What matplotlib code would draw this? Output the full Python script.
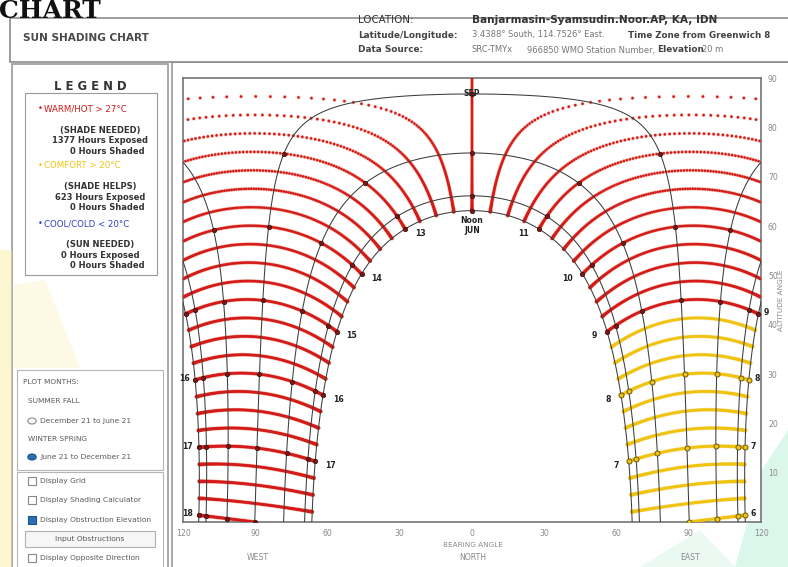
import numpy as np
import matplotlib
matplotlib.use("Agg")
import matplotlib.pyplot as plt
from matplotlib.patches import Rectangle, Circle, Polygon

# ---------------------------------------------------------------- data
latitude = -3.4388                      # 3.4388 deg South
month_names = ["JUN", "JUL", "AUG", "SEP", "OCT", "NOV", "DEC"]
month_start_doy = [152, 182, 213, 244, 274, 305, 335]
month_path_doy = [172, 202, 233, 264, 294, 325, 355]   # 21st of each month
first_doy, last_doy = 172, 355                         # June 21 .. December 21
plot_hours = [6, 7, 8, 9, 10, 11, 12, 13, 14, 15, 16, 17, 18]
steps_per_hour = 4                                     # 15 minute sun positions

# mean dry-bulb temperature (deg C) by month (rows) and hour 6..18 (columns)
hourly_temp = [
    [24.1, 24.6, 25.8, 27.3, 28.8, 30.0, 30.9, 31.5, 31.6, 31.3, 30.4, 29.1, 27.8],
    [24.0, 24.5, 25.9, 27.4, 28.9, 30.1, 31.0, 31.6, 31.8, 31.4, 30.5, 29.2, 27.9],
    [24.2, 24.8, 26.2, 27.8, 29.4, 30.7, 31.7, 32.3, 32.4, 32.0, 31.0, 29.6, 28.1],
    [24.6, 25.2, 26.6, 28.3, 30.0, 31.4, 32.4, 33.0, 33.1, 32.6, 31.5, 30.0, 28.4],
    [24.8, 25.4, 26.8, 28.4, 30.1, 31.5, 32.5, 33.1, 33.0, 32.4, 31.3, 29.8, 28.3],
    [24.7, 25.3, 26.5, 28.0, 29.6, 30.9, 31.8, 32.2, 32.1, 31.5, 30.4, 29.1, 27.8],
    [24.5, 25.0, 26.2, 27.6, 29.1, 30.3, 31.1, 31.5, 31.4, 30.9, 29.9, 28.7, 27.5],
]
hot_limit, comfort_limit = 27.0, 20.0

june_labels = [7, 8, 9, 10, 11, 13, 14, 15, 16, 17]
december_labels = [6, 7, 8, 9, 16, 17, 18]

legend_rows = [
    ("WARM/HOT > 27°C", "(SHADE NEEDED)", "1377 Hours Exposed", "0 Hours Shaded"),
    ("COMFORT > 20°C", "(SHADE HELPS)", "623 Hours Exposed", "0 Hours Shaded"),
    ("COOL/COLD < 20°C", "(SUN NEEDED)", "0 Hours Exposed", "0 Hours Shaded"),
]
bearing_ticks = [-120, -90, -60, -30, 0, 30, 60, 90, 120]
altitude_ticks = [10, 20, 30, 40, 50, 60, 70, 80, 90]

HOT = "#d41a1a"
COMFORT = "#f0c30e"
COOL = "#2f3fc2"


# ---------------------------------------------------------------- solar geometry
def declination(doy):
    return 23.45 * np.sin(np.radians(360.0 / 365.0 * (284 + np.asarray(doy))))


def sun_position(doy, hour):
    """Altitude and bearing (deg, east positive, from north) for solar time."""
    phi = np.radians(latitude)
    dec = np.radians(declination(doy))
    ha = np.radians(15.0 * (np.asarray(hour) - 12.0))
    sin_alt = np.sin(phi) * np.sin(dec) + np.cos(phi) * np.cos(dec) * np.cos(ha)
    alt = np.degrees(np.arcsin(np.clip(sin_alt, -1, 1)))
    az = np.arctan2(-np.cos(dec) * np.sin(ha),
                    np.sin(dec) * np.cos(phi) - np.cos(dec) * np.cos(ha) * np.sin(phi))
    return alt, np.degrees(az)


def temp_at(doy, hour):
    m = np.searchsorted(month_start_doy, doy, side="right") - 1
    h = int(np.floor(hour + 1e-9)) - plot_hours[0]
    return hourly_temp[m][min(max(h, 0), len(plot_hours) - 1)]


def temp_colour(t):
    if t > hot_limit:
        return HOT
    if t > comfort_limit:
        return COMFORT
    return COOL


# ---------------------------------------------------------------- figure
W, H = 788, 567
fig = plt.figure(figsize=(W / 100, H / 100), dpi=100)
fig.patch.set_facecolor("white")


def X(px):
    return px / W


def Y(py):
    return 1 - py / H


def text(x, y, s, **kw):
    kw.setdefault("va", "center")
    return fig.text(X(x), Y(y), s, **kw)


def box(x0, y0, x1, y1, fc="white", ec="#9a9a9a", lw=1.0, z=-3):
    fig.add_artist(Rectangle((X(x0), Y(y1)), X(x1) - X(x0), Y(y0) - Y(y1),
                             transform=fig.transFigure, facecolor=fc,
                             edgecolor=ec, linewidth=lw, zorder=z))


def shape(points, fc, alpha, z=-2.5):
    fig.add_artist(Polygon([(X(px), Y(py)) for px, py in points], closed=True,
                           transform=fig.transFigure, facecolor=fc,
                           edgecolor="none", alpha=alpha, zorder=z))


narrow = ["Liberation Sans Narrow", "DejaVu Sans"]
grey_txt = "#5a5a5a"

# page title running behind the window
text(-1, 18, "CHART", fontsize=18, fontweight="bold", family="DejaVu Serif",
     va="baseline", color="#111")

# header bar
box(10, 18, 800, 62, fc="white", ec="#8c8c8c", lw=1.2)
text(23, 38, "SUN SHADING CHART", fontsize=7.6, fontweight="bold", color="#4a4a4a")
text(358, 20, "LOCATION:", fontsize=7.4, color="#333")
text(358, 35, "Latitude/Longitude:", fontsize=6.4, fontweight="bold", color="#444")
text(358, 50, "Data Source:", fontsize=6.4, fontweight="bold", color="#444")
text(472, 20, "Banjarmasin-Syamsudin.Noor.AP, KA, IDN", fontsize=7.6,
     fontweight="bold", color="#333")
text(472, 35, "3.4388° South, 114.7526° East.", fontsize=6.0, color="#777")
text(628, 35, "Time Zone from Greenwich 8", fontsize=6.3, fontweight="bold", color="#444")
text(472, 50, "SRC-TMYx", fontsize=6.0, color="#777")
text(527, 50, "966850 WMO Station Number,", fontsize=6.0, color="#777")
text(657, 50, "Elevation", fontsize=6.4, fontweight="bold", color="#444")
text(702, 50, "20 m", fontsize=6.0, color="#777")

# left control column
box(12, 64, 168, 575, fc="white", ec="#9a9a9a", lw=1.2, z=-4)
# faint background tint showing through the window
shape([(0, 250), (12, 250), (12, 567), (0, 567)], "#f7ec9a", 0.45)
shape([(14, 285), (45, 280), (80, 368), (14, 368)], "#fbf3c4", 0.45)
box(25, 93, 157, 275, fc="white", ec="#9a9a9a", lw=0.8)
text(90, 86, "L E G E N D", fontsize=8.4, fontweight="bold", color="#333", ha="center")
row_y = [109, 166, 224]
for (head, need, exposed, shaded), y0, col in zip(legend_rows, row_y,
                                                   [HOT, COMFORT, COOL]):
    text(38, y0, "•", fontsize=6, color=col, ha="left")
    text(44, y0, head, fontsize=6.2, color=col, ha="left", family=narrow)
    text(100, y0 + 21, need, fontsize=6.0, color="#333", ha="center",
         family=narrow, fontweight="bold")
    text(100, y0 + 32, exposed, fontsize=6.0, color="#333", ha="center",
         family=narrow, fontweight="bold")
    text(107, y0 + 42, shaded, fontsize=6.0, color="#333", ha="center",
         family=narrow, fontweight="bold")

box(17, 370, 163, 470, fc="white", ec="#b5b5b5", lw=0.8)
text(23, 382, "PLOT MONTHS:", fontsize=5.3, color=grey_txt)
text(28, 401, "SUMMER FALL", fontsize=5.3, color=grey_txt)
text(28, 439, "WINTER SPRING", fontsize=5.3, color=grey_txt)
fig.add_artist(Circle((X(32), Y(421)), 4.2 / W, transform=fig.transFigure,
                      facecolor="white", edgecolor="#888", lw=0.8))
fig.add_artist(Circle((X(32), Y(457)), 4.2 / W, transform=fig.transFigure,
                      facecolor="#2a6fb8", edgecolor="#1d4f88", lw=0.8))
text(40, 421, "December 21 to June 21", fontsize=5.4, color=grey_txt)
text(40, 457, "June 21 to December 21", fontsize=5.4, color=grey_txt)

box(17, 472, 163, 575, fc="white", ec="#b5b5b5", lw=0.8)
checks = [(481, "Display Grid", False), (500, "Display Shading Calculator", False),
          (520, "Display Obstruction Elevation", True),
          (558, "Display Opposite Direction", False)]
for y0, label, on in checks:
    box(28, y0 - 4, 36, y0 + 4, fc="#2a6fb8" if on else "white",
        ec="#1d4f88" if on else "#888", lw=0.8, z=2)
    text(40, y0, label, fontsize=5.4, color=grey_txt)
box(25, 531, 155, 547, fc="#f6f6f6", ec="#b0b0b0", lw=0.8, z=1)
text(90, 539, "Input Obstructions", fontsize=5.4, color=grey_txt, ha="center")

# chart panel border
box(172, 62, 800, 575, fc="white", ec="#9a9a9a", lw=1.2, z=-4)
shape([(762, 470), (788, 430), (788, 567), (735, 567)], "#bff0dc", 0.55)
shape([(640, 567), (700, 530), (735, 567)], "#d8f5e8", 0.5)

# ---------------------------------------------------------------- sun chart
ax = fig.add_axes([X(183), Y(522), X(761) - X(183), Y(78) - Y(522)])
ax.set_xlim(-120, 120)
ax.set_ylim(0, 90)
ax.set_facecolor("white")

# quarter-hour sun positions for every day of the season, coloured by temperature
days = np.arange(first_doy, last_doy + 1)
times = np.arange(plot_hours[0] * steps_per_hour,
                  plot_hours[-1] * steps_per_hour + 1) / steps_per_hour
xs, ys, cs = [], [], []
for d in days:
    alt, brg = sun_position(d, times)
    for t, a, b in zip(times, alt, brg):
        if a > 0 and abs(b) <= 120:
            xs.append(b)
            ys.append(a)
            cs.append(temp_colour(temp_at(d, t)))
xs, ys, cs = np.array(xs), np.array(ys), np.array(cs)
halo = np.where(cs == HOT, "#ee8a70", "#f5dc78")
ax.scatter(xs, ys, s=8, c=halo, linewidths=0, alpha=0.45, zorder=2, rasterized=True)
ax.scatter(xs, ys, s=3.6, c=cs, linewidths=0, zorder=3, rasterized=True)

# day paths for the 21st of each month, with whole-hour markers
fine = np.linspace(5.5, 18.5, 1400)
for name, d in zip(month_names, month_path_doy):
    alt, brg = sun_position(d, fine)
    ok = (alt >= 0) & (np.abs(brg) <= 120.5)
    ax.plot(np.where(ok, brg, np.nan), np.where(ok, alt, np.nan),
            color="#3c3c3c", lw=0.75, zorder=4)
    for h in plot_hours:
        a, b = sun_position(d, h)
        if a > 0 and abs(b) <= 120:
            col = temp_colour(temp_at(d, h))
            if col == HOT:
                ax.plot(b, a, "o", ms=3.2, mfc="#7a1616", mec="#3a0c0c", mew=0.5, zorder=5)
            else:
                ax.plot(b, a, "o", ms=3.6, mfc=COMFORT, mec="#6a5a10", mew=0.7, zorder=5)

# hour labels on the June and December paths
lab = dict(fontsize=5.6, fontweight="bold", color="#222", zorder=6)
for h in june_labels:
    a, b = sun_position(month_path_doy[0], h)
    dx = -7 if h < 12 else 7
    ax.annotate(str(h), (b, a), xytext=(dx, -3), textcoords="offset points",
                ha="right" if h < 12 else "left", va="center", **lab)
a, b = sun_position(month_path_doy[0], 12)
ax.annotate("Noon\nJUN", (b, a), xytext=(0, -4), textcoords="offset points",
            ha="center", va="top", linespacing=1.1, **lab)
a, b = sun_position(month_path_doy[3], 12)
ax.annotate("SEP", (b, a), xytext=(0, 0), textcoords="offset points",
            ha="center", va="center", **lab)
for h in december_labels:
    a, b = sun_position(month_path_doy[-1], h)
    right = h < 12
    ax.annotate(str(h), (b, a), xytext=(4 if right else -4, 1),
                textcoords="offset points", ha="left" if right else "right",
                va="center", annotation_clip=False, **lab)

# axes styling
for s in ax.spines.values():
    s.set_color("#6a6a6a")
    s.set_linewidth(1.1)
ax.set_xticks(bearing_ticks)
ax.set_xticklabels([str(abs(v)) for v in bearing_ticks])
ax.yaxis.tick_right()
ax.set_yticks(altitude_ticks)
ax.set_yticklabels([str(v) for v in altitude_ticks])
ax.tick_params(axis="x", length=0, pad=5, labelsize=5.6, labelcolor="#8a8a8a")
ax.tick_params(axis="y", length=0, pad=5, labelsize=5.6, labelcolor="#8a8a8a")

text(473, 545, "BEARING ANGLE", fontsize=5.2, color="#8a8a8a", ha="center")
text(258, 557, "WEST", fontsize=5.6, color="#8a8a8a", ha="center")
text(473, 557, "NORTH", fontsize=5.6, color="#8a8a8a", ha="center")
text(690, 557, "EAST", fontsize=5.6, color="#8a8a8a", ha="center")
text(781, 300, "ALTITUDE ANGLE", fontsize=5.2, color="#8a8a8a", ha="center",
     rotation=90)

fig.savefig("out.png", dpi=100, facecolor="white")
